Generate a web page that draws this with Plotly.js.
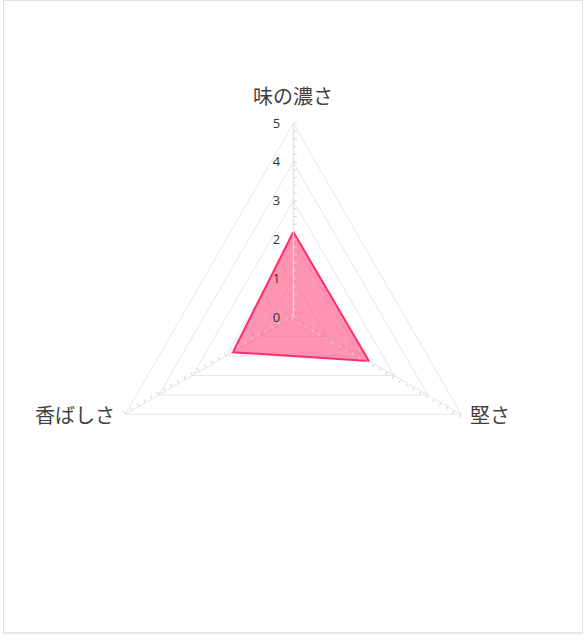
<!DOCTYPE html>
<html>
<head>
<meta charset="utf-8">
<script src="https://cdn.plot.ly/plotly-3.0.1.min.js"></script>
<style>
  html, body { margin: 0; padding: 0; background: #fff; }
  #wrap { position: relative; width: 587px; height: 640px; }
  #chart { position: absolute; left: 0; top: 0; width: 587px; height: 640px; }
  #frame { position: absolute; left: 3px; top: 0px; width: 578px; height: 631px;
           border: 1px solid #e0e0e0; border-bottom: 2px solid #e8e8e8; pointer-events: none; }
</style>
</head>
<body>
<div id="wrap">
  <div id="chart"></div>
  <div id="frame"></div>
</div>
<script>
// ---- data ----
const categories = ["味の濃さ", "堅さ", "香ばしさ"];
const values = [2.2, 2.25, 1.8];
const tickValues = [0, 1, 2, 3, 4, 5];

const lineColor = "rgb(255, 45, 110)";
const fillColor = "rgba(255, 60, 115, 0.55)";

const W = 587, H = 640;
const dom = { x: [0.1692, 0.8302], y: [0.2011, 0.8073] };

const traces = [{
  type: "scatterpolar",
  r: values.concat([values[0]]),
  theta: categories.concat([categories[0]]),
  mode: "lines",
  fill: "toself",
  fillcolor: fillColor,
  line: { color: lineColor, width: 2 },
  hoverinfo: "skip",
  subplot: "polar"
}];

// category labels placed just outside each spoke tip
const cx = (dom.x[0] + dom.x[1]) / 2 * W;
const cy = (1 - (dom.y[0] + dom.y[1]) / 2) * H;
const R = (dom.x[1] - dom.x[0]) * W / 2;
const annotations = categories.map((name, i) => {
  const a = (90 - i * 360 / categories.length) * Math.PI / 180;
  let px = cx + R * Math.cos(a), py = cy - R * Math.sin(a);
  let xanchor = "center";
  if (Math.abs(Math.cos(a)) < 0.01) { py -= 28; }
  else if (Math.cos(a) > 0) { px += 7; xanchor = "left"; }
  else { px -= 8; xanchor = "right"; }
  return {
    text: name, xref: "paper", yref: "paper",
    x: px / W, y: 1 - py / H, xanchor: xanchor, yanchor: "middle",
    showarrow: false,
    font: { size: 20, color: "#3f3f3f", family: "'Noto Sans CJK JP', sans-serif" }
  };
});

const spokeAngles = [90, -30, 210];
const layout = {
  width: W, height: H,
  margin: { l: 0, r: 0, t: 0, b: 0 },
  paper_bgcolor: "rgba(0,0,0,0)",
  plot_bgcolor: "rgba(0,0,0,0)",
  showlegend: false,
  font: { family: "'Noto Sans CJK JP', 'Open Sans', sans-serif", color: "#444" },
  annotations: annotations,
  polar: {
    domain: dom,
    gridshape: "linear",
    bgcolor: "rgba(0,0,0,0)",
    radialaxis: {
      range: [0, 5],
      tickvals: tickValues,
      ticktext: tickValues.map(String),
      angle: 90,
      tickangle: 90,
      side: "counterclockwise",
      showline: true,
      linecolor: "#e2e2e2",
      linewidth: 1,
      gridcolor: "#e6e6e6",
      ticks: "outside",
      ticklen: 8,
      tickcolor: "rgba(0,0,0,0)",
      tickfont: { size: 13, color: "#333", family: "'Open Sans', 'Noto Sans', sans-serif" }
    },
    angularaxis: {
      type: "category",
      categoryarray: categories,
      direction: "clockwise",
      rotation: 90,
      showline: true,
      linecolor: "#e6e6e6",
      linewidth: 1,
      gridcolor: "#e6e6e6",
      ticks: "",
      showticklabels: false
    }
  }
};

// minor tick overlays along each spoke
spokeAngles.forEach((ang, i) => {
  const key = "polar" + (i + 2);
  layout[key] = {
    domain: dom,
    bgcolor: "rgba(0,0,0,0)",
    radialaxis: {
      range: [0, 5],
      dtick: 0.2,
      angle: ang,
      side: "clockwise",
      showline: false,
      showgrid: false,
      showticklabels: false,
      ticks: "outside",
      ticklen: 3,
      tickwidth: 1,
      tickcolor: "#d2d2d2"
    },
    angularaxis: { visible: false, showgrid: false, showline: false, ticks: "" }
  };
  traces.push({
    type: "scatterpolar", r: [], theta: [], mode: "lines",
    hoverinfo: "skip", subplot: key
  });
});

Plotly.newPlot("chart", traces, layout, { displayModeBar: false, staticPlot: true });
</script>
</body>
</html>
